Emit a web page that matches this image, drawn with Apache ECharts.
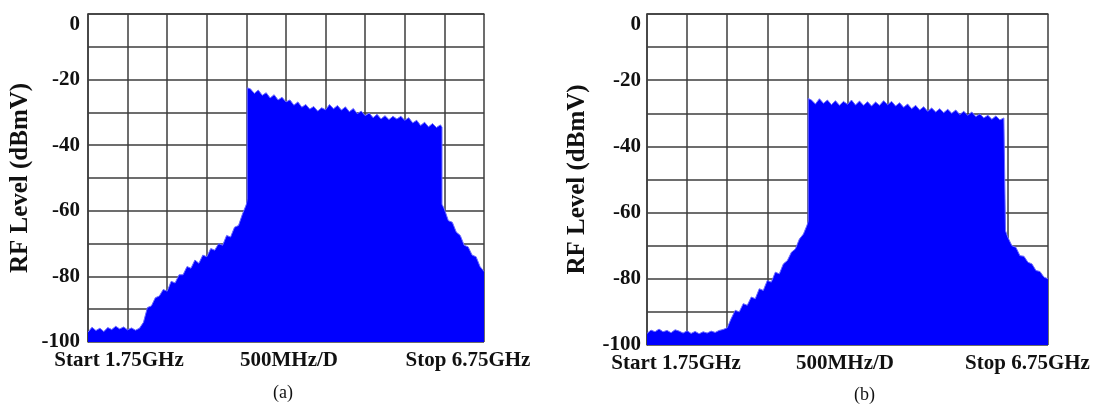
<!DOCTYPE html>
<html>
<head>
<meta charset="utf-8">
<script src="https://cdn.jsdelivr.net/npm/echarts@6/dist/echarts.min.js"></script>
<style>
html,body{margin:0;padding:0;background:#fff;}
#c{width:1095px;height:405px;}
</style>
</head>
<body>
<div id="c"></div>
<script>
// Frequency offset from start (MHz), span 5000 MHz (1.75 GHz .. 6.75 GHz)
const freq = [
  0,50,100,150,200,250,300,350,400,450,500,550,600,650,700,750,800,850,900,950,
  1000,1050,1100,1150,1200,1250,1300,1350,1400,1450,1500,1550,1600,1650,1700,1750,1800,1850,1900,1950,
  2000,2010,2010,2050,2100,2150,2200,2250,2300,2350,2400,2450,2500,2550,2600,2650,2700,2750,2800,2850,2900,2950,
  3000,3050,3100,3150,3200,3250,3300,3350,3400,3450,3500,3550,3600,3650,3700,3750,3800,3850,3900,3950,
  4000,4050,4100,4150,4200,4250,4300,4350,4400,4450,4470,4470,4500,4550,4600,4650,4700,4750,4800,4850,4900,4950,5000
];
// RF level (dBmV), panel (a)
const levelA = [
  -97,-95.5,-96.5,-95.8,-96.8,-95.6,-96.2,-95.2,-96,-95.4,-96.3,-95.7,-96.4,-95.8,
  -94,-89.5,-89,-86.5,-86,-84,-84.5,-81.5,-82,-79.5,-79.5,-77,-77.5,-75,-76,-73.5,-74,-71.5,-72,-70,-70.5,-67.5,-68,-65,-64.5,-61,
  -58,-56.5,-22.5,
  -22.8,-24.2,-23.2,-24.8,-24,-25.6,-24.6,-26.2,-25.4,-26.8,-26.2,-27.8,-26.8,-28.4,-27.6,-29,-28.2,-29.6,-28.6,
  -29.2,-27.6,-28.9,-27.9,-29.3,-28.3,-29.8,-28.8,-30.4,-29.6,-31,-30.2,-31.6,-30.6,-32,-31,-32.2,-31.2,-32,-31.2,
  -32.4,-31.6,-33.2,-32.4,-34,-33,-34.4,-33.4,-34.6,-33.8,
  -34.5,-58,
  -59.5,-63,-63.5,-66.5,-67.5,-70.5,-71,-73.5,-74,-77,-78.5
];
// RF level (dBmV), panel (b)
const levelB = [
  -96.5,-95.5,-96,-95.2,-96,-95.6,-96.3,-95.4,-95.8,-96.4,-95.7,-96.5,-95.9,-96.6,-96,-96.4,-95.8,-96.2,-95.6,-95.3,-94.8,
  -92,-89.5,-90,-87.5,-88,-85.5,-86,-83,-83.5,-80.5,-81,-78,-78.5,-75.5,-74.5,-72,-71,-68,-66.5,
  -63.5,-62.5,-25.5,
  -26,-27.2,-25.6,-27,-26,-27.4,-26.2,-27.6,-26.4,-27.3,-26,-27.5,-26.3,-27.6,-26.5,-27.8,-26.6,-27.6,-26.2,
  -27.4,-26.4,-27.8,-26.8,-28.2,-27.2,-28.6,-27.6,-29,-28,-29.4,-28.4,-29.6,-28.6,-29.8,-28.8,-30,-29,-30.4,-29.4,
  -30.6,-29.6,-31,-30.2,-31.4,-30.6,-31.8,-30.8,-32,-31.4,
  -32,-65.5,
  -67.5,-70,-70.5,-73,-73.2,-75,-75.5,-77.5,-77.8,-79.5,-80
];
const xLabels = ['Start 1.75GHz', '500MHz/D', 'Stop 6.75GHz'];
const yTicks = [-100, -80, -60, -40, -20, 0];
const panelLabels = ['(a)', '(b)'];
const yTitle = 'RF Level (dBmV)';

// label anchor positions (axis units) for the three x texts
const xLabelPosA = [391, 2538, 4798];
const xLabelPosB = [362, 2469, 4744];

const FONT = "'Liberation Serif','Times New Roman',serif";
const gridColor = '#3c3c3c';

function xAxisOf(gi, pos) {
  return {
    type: 'value', gridIndex: gi, min: 0, max: 5000, interval: 500,
    axisLine: {show: true, lineStyle: {color: gridColor, width: 1.5}},
    axisTick: {show: false},
    splitLine: {show: true, lineStyle: {color: gridColor, width: 1.5}},
    axisLabel: {
      customValues: pos,
      margin: 8,
      color: '#111', fontFamily: FONT, fontWeight: 'bold', fontSize: 21,
      formatter: function (v) {
        const i = pos.indexOf(v);
        return i >= 0 ? xLabels[i] : '';
      }
    }
  };
}
function yAxisOf(gi, gap, margin) {
  return {
    type: 'value', gridIndex: gi, min: -100, max: 0, interval: 10,
    name: yTitle, nameLocation: 'middle', nameRotate: 90, nameGap: gap,
    nameTextStyle: {color: '#111', fontFamily: FONT, fontWeight: 'bold', fontSize: 25},
    axisLine: {show: true, lineStyle: {color: gridColor, width: 1.5}},
    axisTick: {show: false},
    splitLine: {show: true, lineStyle: {color: gridColor, width: 1.5}},
    axisLabel: {
      margin: margin,
      verticalAlignMaxLabel: 'top',
      color: '#111', fontFamily: FONT, fontWeight: 'bold', fontSize: 21,
      formatter: function (v) { return yTicks.indexOf(v) >= 0 ? String(v) : ''; }
    }
  };
}
function seriesOf(gi, levels) {
  return {
    type: 'line', xAxisIndex: gi, yAxisIndex: gi,
    data: freq.map((f, i) => [f, levels[i]]),
    showSymbol: false, symbol: 'none', silent: true, animation: false,
    lineStyle: {color: '#6a6aff', width: 1},
    areaStyle: {color: '#0000ff', opacity: 1, origin: 'start'}
  };
}

const chart = echarts.init(document.getElementById('c'), null, {renderer: 'canvas'});
chart.setOption({
  animation: false,
  backgroundColor: '#ffffff',
  grid: [
    {left: 88, top: 14, width: 396, height: 328},
    {left: 647, top: 14, width: 401, height: 331}
  ],
  xAxis: [xAxisOf(0, xLabelPosA), xAxisOf(1, xLabelPosB)],
  yAxis: [yAxisOf(0, 55, 8), yAxisOf(1, 57, 6)],
  series: [seriesOf(0, levelA), seriesOf(1, levelB)],
  graphic: [
    {type: 'text', left: 273, top: 384, style: {text: panelLabels[0], font: "18px 'Liberation Serif', serif", fill: '#111'}},
    {type: 'text', left: 854, top: 386, style: {text: panelLabels[1], font: "18px 'Liberation Serif', serif", fill: '#111'}}
  ]
});
</script>
</body>
</html>
